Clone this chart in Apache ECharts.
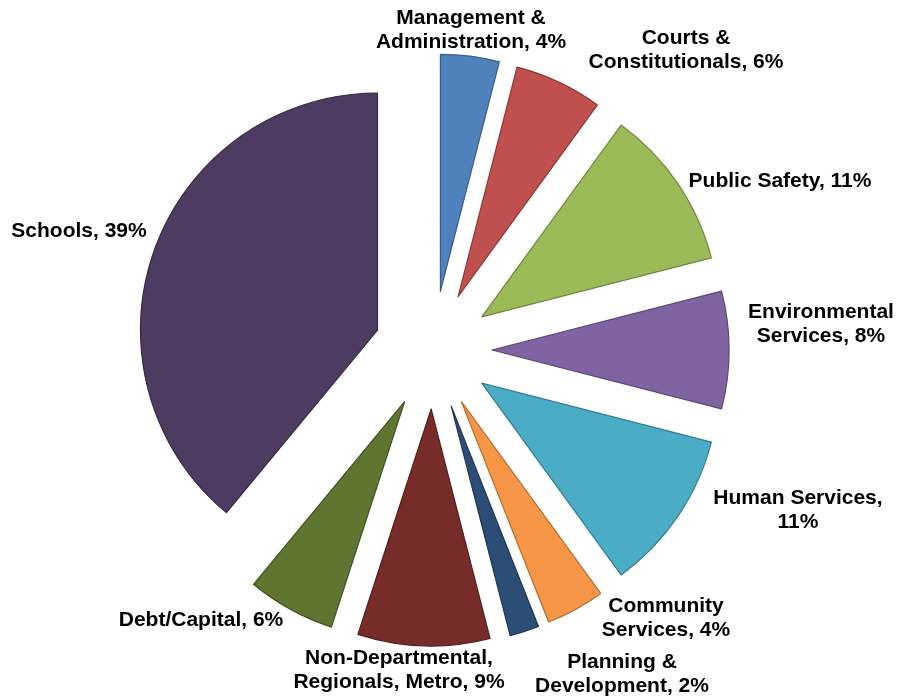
<!DOCTYPE html>
<html>
<head>
<meta charset="utf-8">
<script src="https://cdn.jsdelivr.net/npm/echarts@6/dist/echarts.min.js"></script>
<style>
  html, body { margin: 0; padding: 0; background: #ffffff; }
  #chart { width: 898px; height: 700px; }
</style>
</head>
<body>
<div id="chart"></div>
<script>
// Data (percent shares, clockwise from 12 o'clock)
const categories = [
  'Management &\nAdministration',
  'Courts &\nConstitutionals',
  'Public Safety',
  'Environmental\nServices',
  'Human Services',
  'Community\nServices',
  'Planning &\nDevelopment',
  'Non-Departmental,\nRegionals, Metro',
  'Debt/Capital',
  'Schools'
];
const values = [4, 6, 11, 8, 11, 4, 2, 9, 6, 39];

// Styling (kept separate from data)
const fillColors = ['#4F81BD', '#C0504D', '#9BBB59', '#8064A2', '#4BACC6',
                    '#F79646', '#2C4D75', '#772C2A', '#5F7530', '#4D3B62'];
const borderColors = ['#385D8A', '#8C3836', '#71893F', '#5C4776', '#357D91',
                      '#B66D31', '#1F3652', '#511E1C', '#42521F', '#352943'];
const breakBeforeValue = ['Human Services'];
// label centre positions (layout only)
const labelPos = [
  [471, 30], [686, 50], [780, 181], [821, 324], [798, 510],
  [666, 618], [622, 674], [399, 670], [201, 620], [79, 231]
];

const total = values.reduce((a, b) => a + b, 0);
function labelText(i) {
  const name = categories[i];
  const pct = Math.round(values[i] / total * 100);
  const sep = breakBeforeValue.indexOf(name) >= 0 ? ',\n' : ', ';
  return name + sep + pct + '%';
}

const chart = echarts.init(document.getElementById('chart'), null, { renderer: 'canvas' });

const seriesData = categories.map((name, i) => ({
  name: name,
  value: values[i],
  selected: true,
  itemStyle: { color: fillColors[i], borderColor: borderColors[i], borderWidth: 1.2 }
}));

const labelGraphics = categories.map((name, i) => ({
  type: 'text',
  x: labelPos[i][0],
  y: labelPos[i][1],
  silent: true,
  style: {
    text: labelText(i),
    fill: '#000000',
    font: 'bold 21px "Liberation Sans", Arial, sans-serif',
    lineHeight: 24,
    textAlign: 'center',
    textVerticalAlign: 'middle'
  }
}));

chart.setOption({
  backgroundColor: '#ffffff',
  animation: false,
  graphic: labelGraphics,
  series: [{
    type: 'pie',
    center: [433, 350],
    radius: [0, 237],
    startAngle: 90,
    clockwise: true,
    selectedMode: 'multiple',
    selectedOffset: 59,
    avoidLabelOverlap: false,
    emphasis: { disabled: true },
    data: seriesData,
    label: { show: false },
    labelLine: { show: false }
  }]
});
</script>
</body>
</html>
